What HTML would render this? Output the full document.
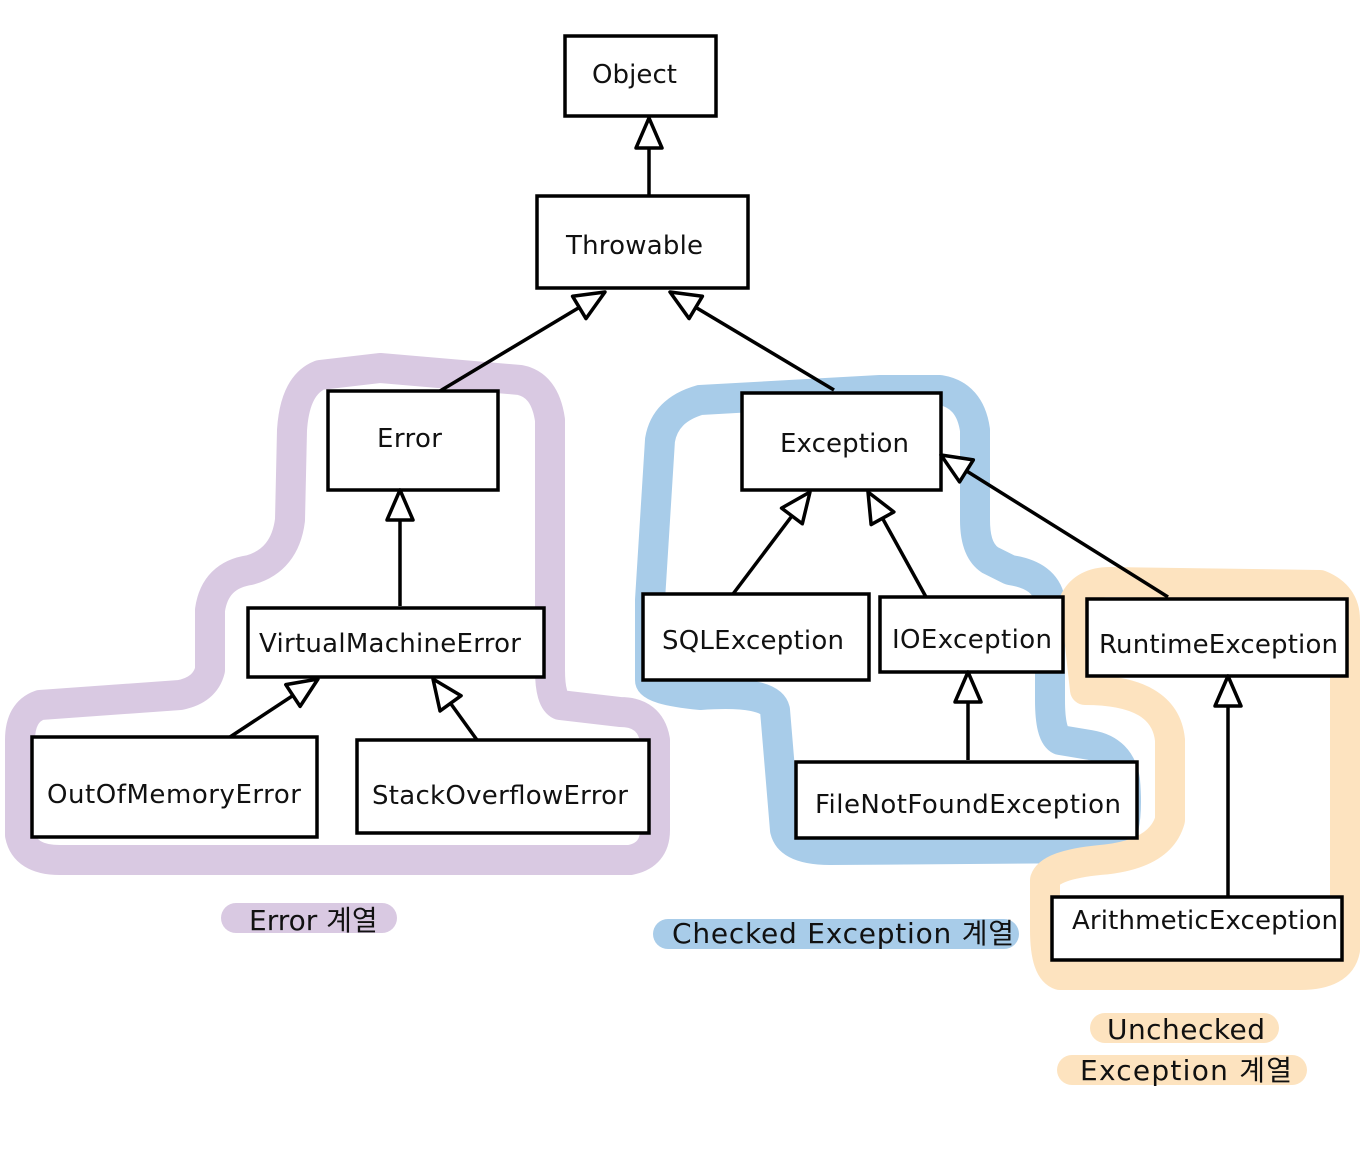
<!DOCTYPE html>
<html><head><meta charset="utf-8"><style>
html,body{margin:0;padding:0;background:#fff;}
text{font-family:"DejaVu Sans","Noto Sans CJK KR",sans-serif;font-size:26px;fill:#111;}
</style></head><body>
<svg width="1362" height="1147" viewBox="0 0 1362 1147" xmlns="http://www.w3.org/2000/svg">
<defs>
<marker id="b" markerWidth="34" markerHeight="34" refX="32" refY="17" orient="auto" markerUnits="userSpaceOnUse" viewBox="0 0 34 34">
<path d="M2,4 L32,17 L2,30 Z" fill="#fff" stroke="#000" stroke-width="3.5" stroke-linejoin="round"/>
</marker>
</defs>
<g fill="none" stroke-linecap="round" stroke-linejoin="round" stroke-width="30">
<path stroke="#d9c9e2" d="M380,368 L320,375 Q295,385 292,430 L290,520 Q285,560 250,570 Q215,575 210,610 L210,670 Q205,690 180,695 L40,705 Q20,712 20,740 L20,835 Q25,860 60,860 L630,860 Q655,855 655,830 L655,740 Q650,712 620,712 L560,705 Q550,700 550,670 L550,420 Q545,385 520,380 L380,368 Z"/>
<path stroke="#a8cce9" d="M880,390 L700,400 Q665,410 660,440 L650,600 L650,680 Q650,690 700,695 Q770,690 775,710 L785,830 Q790,850 830,850 L1110,848 Q1130,840 1125,780 Q1120,750 1090,745 L1060,740 Q1050,735 1050,700 L1050,600 Q1045,575 1010,570 L990,560 Q975,550 975,520 L975,430 Q970,395 940,390 Z"/>
<path stroke="#fde3bf" d="M1110,582 L1320,585 Q1345,595 1345,620 L1345,950 Q1340,975 1300,975 L1060,975 Q1045,970 1045,930 L1045,880 Q1050,865 1100,860 Q1160,855 1170,820 L1170,740 Q1165,690 1085,690 L1075,600 Q1085,582 1110,582 Z"/>
<path stroke="#d9c9e2" d="M236,918 L382,918"/>
<path stroke="#a8cce9" d="M668,934 L1004,934"/>
<path stroke="#fde3bf" d="M1105,1028 L1264,1028 M1072,1070 L1292,1070"/>
</g>
<g fill="#fff" stroke="#000" stroke-width="3.5">
<rect x="565" y="36" width="151" height="80"/>
<rect x="537" y="196" width="211" height="92"/>
<rect x="328" y="391" width="170" height="99"/>
<rect x="248" y="608" width="296" height="69"/>
<rect x="32" y="737" width="285" height="100"/>
<rect x="357" y="740" width="292" height="93"/>
<rect x="742" y="393" width="199" height="97"/>
<rect x="643" y="594" width="226" height="86"/>
<rect x="880" y="597" width="183" height="75"/>
<rect x="796" y="762" width="341" height="76"/>
<rect x="1087" y="599" width="260" height="77"/>
<rect x="1052" y="897" width="290" height="63"/>
</g>
<g stroke="#000" stroke-width="3.5" fill="none" marker-end="url(#b)">
<path d="M649,196 L649,118"/>
<path d="M440,391 L605,292"/>
<path d="M834,390 L670,292"/>
<path d="M400,606 L400,490"/>
<path d="M230,737 L318,679"/>
<path d="M477,740 L433,679"/>
<path d="M733,594 L810,492"/>
<path d="M926,597 L868,492"/>
<path d="M1168,597 L941,455"/>
<path d="M968,760 L968,672"/>
<path d="M1228,897 L1228,676"/>
</g>
<text x="592" y="83" textLength="85">Object</text>
<text x="566" y="254" textLength="137">Throwable</text>
<text x="377" y="447" textLength="65">Error</text>
<text x="259" y="652" textLength="262">VirtualMachineError</text>
<text x="47" y="803" textLength="254">OutOfMemoryError</text>
<text x="372" y="804" textLength="256">StackOverflowError</text>
<text x="780" y="452" textLength="129">Exception</text>
<text x="662" y="649" textLength="182">SQLException</text>
<text x="892" y="648" textLength="160">IOException</text>
<text x="815" y="813" textLength="306">FileNotFoundException</text>
<text x="1099" y="653" textLength="239">RuntimeException</text>
<text x="1072" y="929" textLength="266">ArithmeticException</text>
<text x="249" y="930" style="font-size:28px">Error 계열</text>
<text x="672" y="943" style="font-size:28px" textLength="342">Checked Exception 계열</text>
<text x="1107" y="1039" style="font-size:28px" textLength="158">Unchecked</text>
<text x="1080" y="1080" style="font-size:28px" textLength="212">Exception 계열</text>
</svg>
</body></html>
